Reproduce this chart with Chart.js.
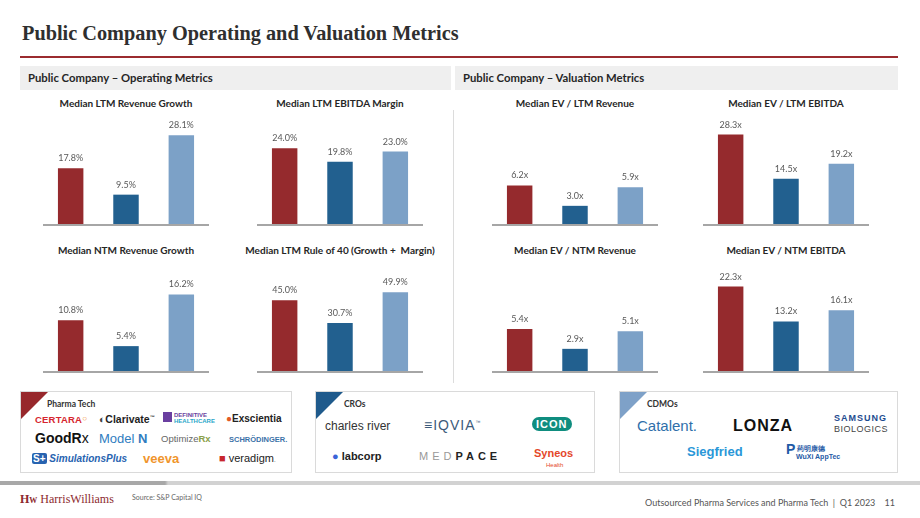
<!DOCTYPE html>
<html>
<head>
<meta charset="utf-8">
<script src="https://cdn.jsdelivr.net/npm/chart.js@4.4.0/dist/chart.umd.min.js"></script>
<style>
  html, body { margin: 0; padding: 0; background: #fff; }
  body { width: 920px; height: 518px; position: relative; overflow: hidden; font-family: Lato, 'Open Sans', sans-serif; color: #262626; }
  .abs { position: absolute; white-space: nowrap; }
  .page-title { left: 22px; top: 22px; font-family: 'Liberation Serif', serif; font-weight: bold; font-size: 20.3px; color: #2f2f2f; }
  .rule { left: 20px; top: 56px; width: 878px; height: 2px; background: #9b2b2f; }
  .section { top: 66px; height: 24px; background: #efefef; font-weight: bold; font-size: 11.3px; line-height: 24px; padding-left: 8px; box-sizing: border-box; }
  .divider { left: 453px; top: 110px; width: 1px; height: 273px; background: #dcdcdc; }
  .chart-title { font-weight: bold; font-size: 10px; transform: translateX(-50%); line-height: 12px; white-space: pre; }
  .chart-box { position: absolute; width: 166px; height: 116px; }
  .logo-box { top: 391px; height: 82px; border: 1px solid #dadada; box-sizing: border-box; }
  .corner { left: 0; top: 0; width: 0; height: 0; border-top: 27px solid; border-right: 27px solid transparent; }
  .box-label { top: 7px; font-size: 8.5px; font-weight: bold; color: #333; }
  .logo { position: absolute; white-space: nowrap; font-family: 'Liberation Sans', Arial, sans-serif; }
  .footer-bar { left: 0; top: 481px; width: 920px; height: 4px; background: linear-gradient(90deg, #a8a8a8 0, #a8a8a8 165px, #d2d2d2 168px, #d2d2d2 100%); }
</style>
</head>
<body>
<div class="abs page-title">Public Company Operating and Valuation Metrics</div>
<div class="abs rule"></div>
<div class="abs section" style="left:20px; width:431px;">Public Company – Operating Metrics</div>
<div class="abs section" style="left:455px; width:443px;">Public Company – Valuation Metrics</div>
<div class="abs divider"></div>

<div id="charts"></div>

<div class="abs logo-box" style="left:20px; width:272px;">
  <div class="abs corner" style="border-top-color:#97282c;"></div>
  <div class="abs box-label" style="left:26px;">Pharma Tech</div>
  <span class="logo" style="left:14px; top:22px; color:#d6262f; font-size:9.5px; font-weight:bold; letter-spacing:0.2px;">CERTARA<span style="color:#f08a2a; font-size:8px; vertical-align:top;">&#9675;</span></span>
  <span class="logo" style="left:78px; top:21px; color:#1e1e1e; font-size:10.5px; font-weight:bold;"><span style="color:#444;">&#9680;</span>Clarivate<sup style="font-size:5px;">&#8482;</sup></span>
  <span class="logo" style="left:142px; top:20px; color:#6a3fa0; font-size:6px; font-weight:bold; line-height:6px;"><span style="display:inline-block; width:9px; height:10px; background:#6a3fa0; vertical-align:top; margin-right:2px;"></span><span style="display:inline-block;">DEFINITIVE<br><span style="color:#2aa6c9;">HEALTHCARE</span></span></span>
  <span class="logo" style="left:205px; top:21px; color:#222; font-size:10px; font-weight:bold;"><span style="color:#e35a26;">&#9679;</span>Exscientia</span>
  <span class="logo" style="left:14px; top:38px; color:#111; font-size:14px; font-weight:bold;">GoodR<span style="font-weight:normal;">x</span></span>
  <span class="logo" style="left:78px; top:39px; color:#2f7dbf; font-size:13px;">Model <b>N</b></span>
  <span class="logo" style="left:140px; top:41px; color:#666; font-size:9.5px;">Optimize<b style="color:#8aa04a;">Rx</b></span>
  <span class="logo" style="left:208px; top:43px; color:#3a72a8; font-size:7.5px; font-weight:bold;">SCHRÖDINGER.</span>
  <span class="logo" style="left:11px; top:61px; color:#2763b0; font-size:10px; font-weight:bold; font-style:italic;"><span style="background:#2763b0; color:#fff; font-style:normal; padding:0 1px; border-radius:2px;">S+</span> SimulationsPlus</span>
  <span class="logo" style="left:122px; top:59px; color:#f0952d; font-size:13px; font-weight:bold;">veeva</span>
  <span class="logo" style="left:198px; top:60px; color:#222; font-size:11px;"><span style="color:#c8262d;">&#9632;</span> veradigm<span style="font-size:6px;">.</span></span>
</div>

<div class="abs logo-box" style="left:315px; width:280px;">
  <div class="abs corner" style="border-top-color:#1f5a8c;"></div>
  <div class="abs box-label" style="left:28px;">CROs</div>
  <span class="logo" style="left:9px; top:27px; color:#333; font-size:12px;">charles river</span>
  <span class="logo" style="left:108px; top:25px; color:#3c5a7a; font-size:14px; letter-spacing:1px;">&#8801;IQVIA<sup style="font-size:5px;">&#8482;</sup></span>
  <span class="logo" style="left:216px; top:25px; color:#fff; font-size:11px; font-weight:bold; letter-spacing:1px; background:#0f8d7f; border-radius:9px; padding:1px 4px;">ICON</span>
  <span class="logo" style="left:16px; top:58px; color:#222; font-size:11px; font-weight:bold;"><span style="color:#3a64d8;">&#9679;</span> labcorp</span>
  <span class="logo" style="left:103px; top:58px; color:#999; font-size:11px; letter-spacing:4px;">MED<span style="color:#222; font-weight:bold;">PACE</span></span>
  <span class="logo" style="left:218px; top:56px; color:#e4472a; font-size:11px; font-weight:bold; line-height:10px;">Syneos<br><span style="font-size:6px; font-weight:normal; padding-left:12px;">Health</span></span>
</div>

<div class="abs logo-box" style="left:619px; width:279px;">
  <div class="abs corner" style="border-top-color:#7ea1c8;"></div>
  <div class="abs box-label" style="left:27px;">CDMOs</div>
  <span class="logo" style="left:17px; top:25px; color:#2f6faa; font-size:15px;">Catalent.</span>
  <span class="logo" style="left:113px; top:25px; color:#111; font-size:16px; font-weight:bold; letter-spacing:1px;">LONZA</span>
  <span class="logo" style="left:214px; top:21px; color:#1d4b8f; font-size:9px; font-weight:bold; line-height:11px; letter-spacing:1px;">SAMSUNG<br><span style="color:#444; font-weight:normal; letter-spacing:0.5px;">BIOLOGICS</span></span>
  <span class="logo" style="left:67px; top:52px; color:#2a97d8; font-size:13px; font-weight:bold;">Siegfried</span>
  <span class="logo" style="left:166px; top:53px; color:#1f5aa6; font-size:7px; font-weight:bold; line-height:8px;"><span style="font-size:14px; vertical-align:top;">P</span> 药明康德<br><span style="padding-left:10px;">WuXi AppTec</span></span>
</div>

<div class="abs footer-bar"></div>
<div class="abs" style="left:20px; top:492px; font-family:'Liberation Serif', serif; font-size:12px; color:#8c2a2e;"><b>H<span style="font-size:8px;">W</span></b> HarrisWilliams</div>
<div class="abs" style="left:132px; top:493px; font-size:7px; color:#666;">Source: S&amp;P Capital IQ</div>
<div class="abs" style="right:25px; top:497px; font-size:9px; color:#555;">Outsourced Pharma Services and Pharma Tech &nbsp;|&nbsp; Q1 2023 &nbsp;&nbsp; 11</div>

<script>
// segments, in bar order
const categories = ['Pharma Tech', 'CROs', 'CDMOs'];
const barColors = ['#952a2d', '#22608f', '#7ca1c7'];

// operating metrics (%)
const ltmRevenueGrowth = [17.8, 9.5, 28.1];
const ltmEbitdaMargin = [24.0, 19.8, 23.0];
const ntmRevenueGrowth = [10.8, 5.4, 16.2];
const ltmRuleOf40 = [45.0, 30.7, 49.9];

// valuation metrics (x)
const evLtmRevenue = [6.2, 3.0, 5.9];
const evLtmEbitda = [28.3, 14.5, 19.2];
const evNtmRevenue = [5.4, 2.9, 5.1];
const evNtmEbitda = [22.3, 13.2, 16.1];

const panels = [
    { title: 'Median LTM Revenue Growth', data: ltmRevenueGrowth, suffix: '%', max: 36, left: 43, top: 110 },
    { title: 'Median LTM EBITDA Margin', data: ltmEbitdaMargin, suffix: '%', max: 36, left: 257, top: 110 },
    { title: 'Median EV / LTM Revenue', data: evLtmRevenue, suffix: 'x', max: 18, left: 492, top: 110 },
    { title: 'Median EV / LTM EBITDA', data: evLtmEbitda, suffix: 'x', max: 36, left: 703, top: 110 },
    { title: 'Median NTM Revenue Growth', data: ntmRevenueGrowth, suffix: '%', max: 24, left: 43, top: 257 },
    { title: 'Median LTM Rule of 40 (Growth +  Margin)', data: ltmRuleOf40, suffix: '%', max: 72, left: 257, top: 257 },
    { title: 'Median EV / NTM Revenue', data: evNtmRevenue, suffix: 'x', max: 14.4, left: 492, top: 257 },
    { title: 'Median EV / NTM EBITDA', data: evNtmEbitda, suffix: 'x', max: 30, left: 703, top: 257 }
];

// value labels above each bar + grey baseline
const barDecor = {
    id: 'barDecor',
    afterDatasetsDraw(chart, args, opts) {
        const { ctx, chartArea } = chart;
        ctx.save();
        ctx.strokeStyle = '#a6a6a6';
        ctx.lineWidth = 2;
        ctx.beginPath();
        ctx.moveTo(chartArea.left, chartArea.bottom);
        ctx.lineTo(chartArea.right, chartArea.bottom);
        ctx.stroke();

        ctx.fillStyle = '#595959';
        ctx.font = '9px Lato, sans-serif';
        ctx.textAlign = 'center';
        ctx.textBaseline = 'alphabetic';
        const ds = chart.data.datasets[0];
        chart.getDatasetMeta(0).data.forEach((bar, i) => {
            ctx.fillText(ds.data[i].toFixed(1) + opts.suffix, bar.x, bar.y - 7);
        });
        ctx.restore();
    }
};

const holder = document.getElementById('charts');

panels.forEach((p, n) => {
    const t = document.createElement('div');
    t.className = 'abs chart-title';
    t.style.left = (p.left + 83) + 'px';
    t.style.top = (p.top - 13) + 'px';
    t.textContent = p.title;
    holder.appendChild(t);

    const box = document.createElement('div');
    box.className = 'chart-box';
    box.style.left = p.left + 'px';
    box.style.top = p.top + 'px';
    const cv = document.createElement('canvas');
    cv.id = 'chart' + n;
    box.appendChild(cv);
    holder.appendChild(box);

    new Chart(cv, {
        type: 'bar',
        data: {
            labels: categories,
            datasets: [{
                data: p.data,
                backgroundColor: barColors,
                borderWidth: 0,
                barPercentage: 0.46,
                categoryPercentage: 1
            }]
        },
        options: {
            responsive: true,
            maintainAspectRatio: false,
            animation: false,
            layout: { padding: { top: 0, bottom: 1, left: 0, right: 0 } },
            plugins: {
                legend: { display: false },
                tooltip: { enabled: false },
                barDecor: { suffix: p.suffix }
            },
            scales: {
                x: { display: false },
                y: { display: false, min: 0, max: p.max }
            }
        },
        plugins: [barDecor]
    });
});
</script>
</body>
</html>
